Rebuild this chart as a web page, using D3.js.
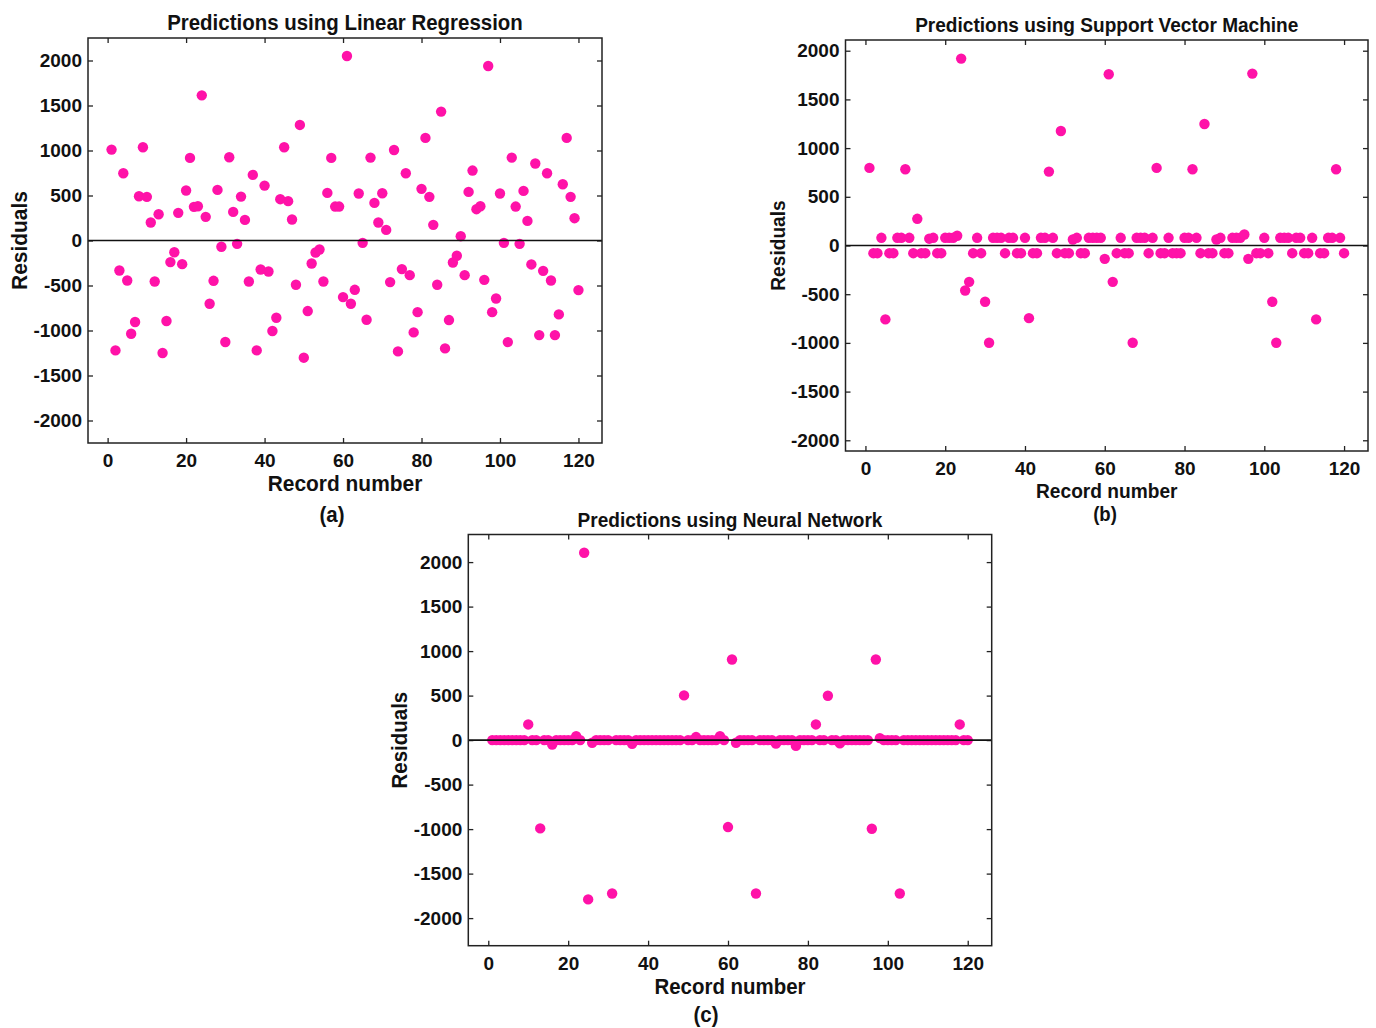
<!DOCTYPE html>
<html>
<head>
<meta charset="utf-8">
<script src="https://cdn.jsdelivr.net/npm/d3@7"></script>
<style>
  body { margin: 0; background: #fff; }
  text { font-family: "Liberation Sans", Arial, sans-serif; font-weight: bold; fill: #111; }
</style>
</head>
<body>
<div id="chart"></div>
<script>
// record numbers on the x axis
var records = d3.range(1, 121);

var xTicks = [0, 20, 40, 60, 80, 100, 120];
var yTicks = [-2000, -1500, -1000, -500, 0, 500, 1000, 1500, 2000];

// residuals, one per record
var lrResiduals = [
  1010, -1221, -333, 747, -444, -1036, -906, 492, 1036, 485,
  200, -455, 292, -1250, -895, -240, -130, 307, -263, 555,
  918, 374, 381, 1613, 263, -703, -448, 562, -70, -1128,
  925, 318, -37, 488, 229, -455, 729, -1221, -322, 610,
  -344, -1006, -858, 459, 1036, 437, 233, -492, 1284, -1302,
  -784, -255, -133, -100, -455, 529, 918, 377, 377, -629,
  2050, -703, -548, 522, -26, -881, 921, 418, 200, 525,
  118, -462, 1006, -1232, -318, 747, -385, -1021, -796, 574,
  1140, 485, 174, -492, 1432, -1199, -884, -244, -170, 48,
  -385, 540, 777, 348, 381, -437, 1939, -796, -644, 522,
  -26, -1129, 921, 377, -37, 551, 218, -266, 855, -1051,
  -337, 747, -444, -1051, -821, 625, 1140, 485, 248, -551
];

var svmResiduals = [
  797, -79, -79, 79, -759, -79, -79, 79, 79, 783,
  79, -79, 274, -79, -79, 70, 79, -79, -79, 79,
  79, 79, 100, 1919, -462, -373, -79, 79, -79, -578,
  -999, 79, 79, 79, -79, 79, 79, -79, -79, 79,
  -746, -79, -79, 79, 79, 759, 79, -79, 1176, -79,
  -79, 62, 79, -79, -79, 79, 79, 79, 79, -137,
  1758, -373, -79, 79, -79, -79, -999, 79, 79, 79,
  -79, 79, 797, -79, -79, 79, -79, -79, -79, 79,
  79, 783, 79, -79, 1248, -79, -79, 62, 79, -79,
  -79, 79, 79, 79, 113, -137, 1765, -79, -79, 79,
  -79, -578, -999, 79, 79, 79, -79, 79, 79, -79,
  -79, 79, -759, -79, -79, 79, 79, 783, 79, -79
];

var nnResiduals = [
  0, 0, 0, 0, 0, 0, 0, 0, 0, 176,
  0, 0, -992, 0, 0, -49, 0, 0, 0, 0,
  0, 45, 0, 2105, -1790, -30, 0, 0, 0, 0,
  -1723, 0, 0, 0, 0, -41, 0, 0, 0, 0,
  0, 0, 0, 0, 0, 0, 0, 0, 502, 0,
  0, 34, 0, 0, 0, 0, 0, 45, 0, -977,
  906, -30, 0, 0, 0, 0, -1723, 0, 0, 0,
  0, -40, 0, 0, 0, 0, -65, 0, 0, 0,
  0, 176, 0, 0, 498, 0, 0, -37, 0, 0,
  0, 0, 0, 0, 0, -996, 906, 22, 0, 0,
  0, 0, -1723, 0, 0, 0, 0, 0, 0, 0,
  0, 0, 0, 0, 0, 0, 0, 176, 0, 0
];

var dotColor = '#ff12a8';

var svg = d3.select('#chart')
  .append('svg')
  .attr('width', 1376)
  .attr('height', 1028)
  .style('background', '#fff');

// plain numbers, hyphen minus, no thousands comma
function plain(d) { return String(d); }

// bold text squeezed a bit sideways like the original figure
function label(g, x, y, size, txt, rot) {
  g.append('text')
    .attr('transform', 'translate(' + x + ',' + y + ')' + (rot ? ' rotate(-90)' : '') + ' scale(0.93,1)')
    .attr('text-anchor', 'middle')
    .style('font-size', size + 'px')
    .text(txt);
}

function panel(opt) {
  var x = d3.scaleLinear().domain([-5, 126]).range([opt.left, opt.left + opt.width]);
  var y = d3.scaleLinear().domain(opt.yDomain).range([opt.top + opt.height, opt.top]);
  var g = svg.append('g');

  // inward ticks on all four sides
  g.append('g')
    .attr('transform', 'translate(0,' + (opt.top + opt.height) + ')')
    .call(d3.axisBottom(x).tickValues(xTicks).tickFormat(plain).tickSizeInner(-5).tickSizeOuter(0).tickPadding(11))
    .call(function (a) { a.select('.domain').remove(); })
    .selectAll('text')
    .style('font-size', '19px')
    .style('font-family', '"Liberation Sans", Arial, sans-serif')
    .style('font-weight', 'bold');

  g.append('g')
    .attr('transform', 'translate(0,' + opt.top + ')')
    .call(d3.axisTop(x).tickValues(xTicks).tickSizeInner(-5).tickSizeOuter(0).tickFormat(''))
    .call(function (a) { a.select('.domain').remove(); });

  g.append('g')
    .attr('transform', 'translate(' + opt.left + ',0)')
    .call(d3.axisLeft(y).tickValues(yTicks).tickFormat(plain).tickSizeInner(-5).tickSizeOuter(0).tickPadding(6))
    .call(function (a) { a.select('.domain').remove(); })
    .selectAll('text')
    .style('font-size', '19px')
    .style('font-family', '"Liberation Sans", Arial, sans-serif')
    .style('font-weight', 'bold');

  g.append('g')
    .attr('transform', 'translate(' + (opt.left + opt.width) + ',0)')
    .call(d3.axisRight(y).tickValues(yTicks).tickSizeInner(-5).tickSizeOuter(0).tickFormat(''))
    .call(function (a) { a.select('.domain').remove(); });

  g.selectAll('.tick line').attr('stroke', '#222').attr('stroke-width', 1.3);
  g.selectAll('.tick text').attr('fill', '#111');

  g.append('g')
    .selectAll('circle')
    .data(opt.values)
    .enter()
    .append('circle')
    .attr('cx', function (d, i) { return x(records[i]); })
    .attr('cy', function (d) { return y(d); })
    .attr('r', 5.2)
    .attr('fill', dotColor);

  // zero line
  g.append('line')
    .attr('x1', opt.left)
    .attr('x2', opt.left + opt.width)
    .attr('y1', y(0))
    .attr('y2', y(0))
    .attr('stroke', '#111')
    .attr('stroke-width', 1.6);

  g.append('rect')
    .attr('x', opt.left)
    .attr('y', opt.top)
    .attr('width', opt.width)
    .attr('height', opt.height)
    .attr('fill', 'none')
    .attr('stroke', '#222')
    .attr('stroke-width', 1.5);

  var cx = opt.left + opt.width / 2;

  label(g, cx, opt.top - 8, opt.titleSize, opt.title);
  label(g, cx, opt.xLabelY, opt.labelSize, 'Record number');
  label(g, opt.left - 61, opt.top + opt.height / 2, opt.labelSize, 'Residuals', true);
  label(g, opt.tagX, opt.tagY, opt.tagSize, opt.tag);
}

panel({
  left: 88, top: 38, width: 514, height: 405,
  yDomain: [-2250, 2250],
  values: lrResiduals,
  title: 'Predictions using Linear Regression', titleSize: 22,
  labelSize: 22.5, xLabelY: 491,
  tag: '(a)', tagX: 332, tagY: 522, tagSize: 22
});

panel({
  left: 845.5, top: 40, width: 522.5, height: 411,
  yDomain: [-2110, 2110],
  values: svmResiduals,
  title: 'Predictions using Support Vector Machine', titleSize: 20.5,
  labelSize: 20.6, xLabelY: 498,
  tag: '(b)', tagX: 1105, tagY: 521, tagSize: 20
});

panel({
  left: 468.3, top: 534.5, width: 523.4, height: 411.2,
  yDomain: [-2310, 2310],
  values: nnResiduals,
  title: 'Predictions using Neural Network', titleSize: 20.5,
  labelSize: 22, xLabelY: 994,
  tag: '(c)', tagX: 706, tagY: 1022, tagSize: 22
});
</script>
</body>
</html>
